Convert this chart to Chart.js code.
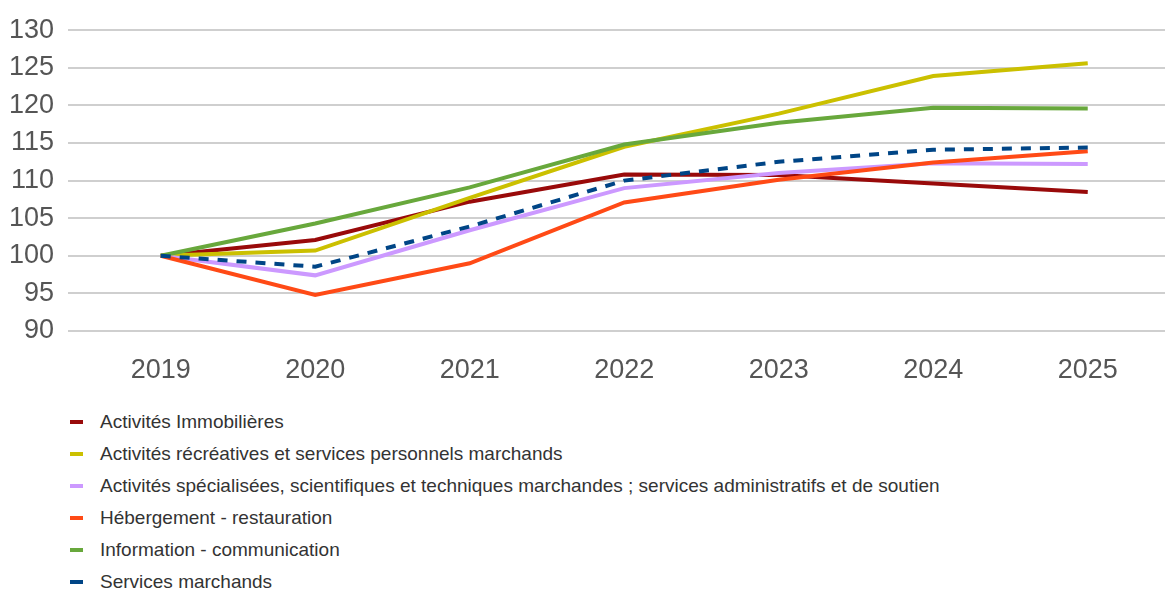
<!DOCTYPE html>
<html lang="fr">
<head>
<meta charset="utf-8">
<title>Indices par branche, base 100 en 2019</title>
<script src="https://cdn.jsdelivr.net/npm/chart.js@4.4.1/dist/chart.umd.min.js"></script>
<style>
  body { margin: 0; background: #fff; font-family: 'Liberation Sans', Arial, sans-serif; }
  #chartBox { position: relative; width: 1167px; height: 400px; }
  #legend { list-style: none; margin: 6px 0 0 0; padding: 0 0 0 70px; }
  #legend li { height: 32px; line-height: 32px; font-size: 19px; color: #333; white-space: nowrap; }
  #legend .swatch { display: inline-block; width: 13px; height: 4px; margin-right: 17px; vertical-align: middle; position: relative; top: -1px; }
</style>
</head>
<body>
<div id="chartBox"><canvas id="mainChart"></canvas></div>
<ul id="legend"></ul>

<script>
const years = ['2019', '2020', '2021', '2022', '2023', '2024', '2025'];

const immobilier = [100, 102.1, 107.2, 110.8, 110.75, 109.6, 108.5];
const recreatif = [100, 100.7, 107.7, 114.5, 118.9, 123.9, 125.6];
const specialise = [100, 97.4, 103.4, 109.0, 111.0, 112.3, 112.2];
const hebergement = [100, 94.8, 99.0, 107.1, 110.1, 112.4, 113.9];
const information = [100, 104.3, 109.1, 114.8, 117.7, 119.7, 119.6];
const servicesMarchands = [100, 98.55, 103.9, 110.0, 112.5, 114.1, 114.4];

const yTicks = [90, 95, 100, 105, 110, 115, 120, 125, 130];

const series = [
  { label: 'Activités Immobilières', data: immobilier, color: '#990a0a' },
  { label: 'Activités récréatives et services personnels marchands', data: recreatif, color: '#cbc000' },
  { label: 'Activités spécialisées, scientifiques et techniques marchandes ; services administratifs et de soutien', data: specialise, color: '#cc99ff' },
  { label: 'Hébergement - restauration', data: hebergement, color: '#ff4a16' },
  { label: 'Information - communication', data: information, color: '#68a83c' },
  { label: 'Services marchands', data: servicesMarchands, color: '#004586', dashed: true }
];

const font = "'Liberation Sans', Arial, sans-serif";

document.addEventListener('DOMContentLoaded', () => {
  const ctx = document.getElementById('mainChart').getContext('2d');

  const chart = new Chart(ctx, {
    type: 'line',
    data: {
      datasets: series.map((s, i) => ({
        label: s.label,
        data: s.data.map((v, k) => ({ x: k, y: v })),
        borderColor: s.color,
        backgroundColor: s.color,
        borderWidth: 4,
        borderDash: s.dashed ? [10, 9] : [],
        borderCapStyle: 'butt',
        borderJoinStyle: 'miter',
        pointRadius: 0,
        tension: 0,
        fill: false,
        order: series.length - i // later series drawn on top
      }))
    },
    options: {
      responsive: true,
      maintainAspectRatio: false,
      animation: false,
      layout: { padding: { top: 25, right: 2, left: 0, bottom: 0 } },
      plugins: {
        legend: { display: false },
        tooltip: { enabled: false }
      },
      scales: {
        x: {
          type: 'linear',
          min: -0.6,
          max: 6.5,
          afterBuildTicks: scale => { scale.ticks = years.map((_, i) => ({ value: i })); },
          afterFit: scale => { scale.height = 69; },
          grid: { display: false, drawTicks: false },
          border: { display: false },
          ticks: {
            padding: 23,
            color: '#555',
            font: { family: font, size: 27 },
            maxRotation: 0,
            callback: v => years[v]
          }
        },
        y: {
          min: 90,
          max: 130,
          afterBuildTicks: scale => { scale.ticks = yTicks.map(v => ({ value: v })); },
          afterFit: scale => { scale.width = 68; },
          grid: { color: '#cfcfcf', lineWidth: 2, drawTicks: false },
          border: { display: false },
          ticks: {
            padding: 14,
            color: '#555',
            font: { family: font, size: 27 }
          }
        }
      }
    }
  });

  // legend list built from the chart's datasets
  const legend = document.getElementById('legend');
  chart.data.datasets.forEach(ds => {
    const li = document.createElement('li');
    li.innerHTML = `<span class="swatch" style="background:${ds.borderColor}"></span>${ds.label}`;
    legend.appendChild(li);
  });
});
</script>
</body>
</html>
